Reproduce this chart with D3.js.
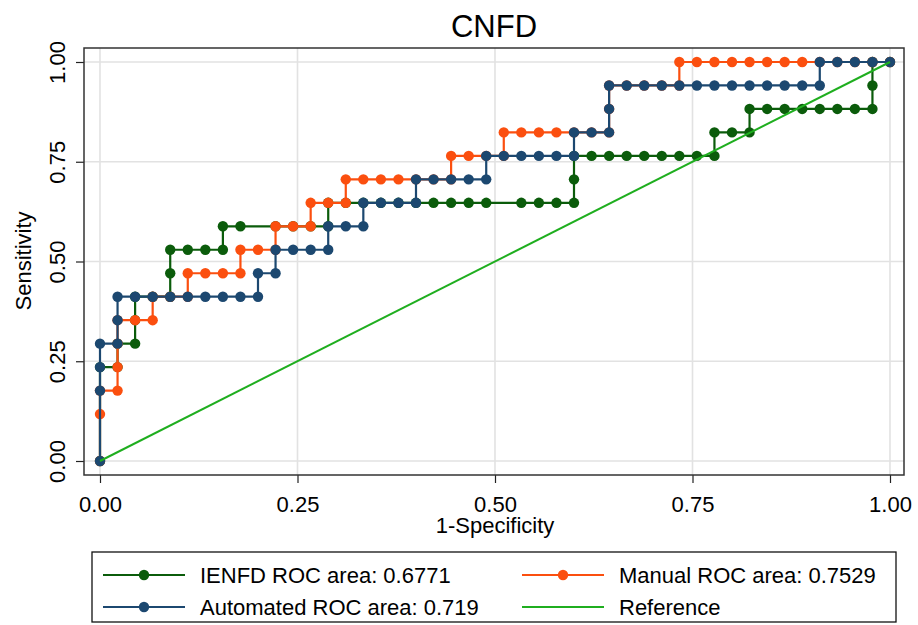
<!DOCTYPE html>
<html>
<head>
<meta charset="utf-8">
<script src="https://cdn.jsdelivr.net/npm/d3@7"></script>
<style>
  body { margin: 0; background: #fff; }
  svg { font-family: "Liberation Sans", Arial, sans-serif; }
</style>
</head>
<body>
<div id="graph"></div>
<script>
// counts: 45 negatives, 17 positives
const nNeg = 45, nPos = 17;

const ienfdFP = [0,0,1,1,2,2,2,3,4,4,4,5,6,7,7,8,10,11,12,13,13,14,15,16,17,18,19,20,21,22,24,25,26,27,27,27,28,29,30,31,32,33,34,35,35,36,37,37,38,39,40,41,42,43,44,44,44,45];
const ienfdTP = [0,4,4,5,5,6,7,7,7,8,9,9,9,9,10,10,10,10,10,10,11,11,11,11,11,11,11,11,11,11,11,11,11,11,12,13,13,13,13,13,13,13,13,13,14,14,14,15,15,15,15,15,15,15,15,16,17,17];

const manualFP = [0,0,0,1,1,1,1,2,3,3,4,5,5,6,7,8,8,9,10,10,11,12,12,13,14,14,15,16,17,18,19,20,20,21,22,23,23,24,25,26,27,28,29,29,29,30,31,32,33,33,34,35,36,37,38,39,40,41,42,43,44,45];
const manualTP = [0,2,3,3,4,5,6,6,6,7,7,7,8,8,8,8,9,9,9,10,10,10,11,11,11,12,12,12,12,12,12,12,13,13,13,13,14,14,14,14,14,14,14,15,16,16,16,16,16,17,17,17,17,17,17,17,17,17,17,17,17,17];

const autoFP = [0,0,0,0,1,1,1,2,3,4,5,6,7,8,9,9,10,10,11,12,13,13,14,15,15,16,17,18,18,19,20,21,22,22,23,24,25,26,27,27,28,29,29,29,30,31,32,33,34,35,36,37,38,39,40,41,41,42,43,44,45];
const autoTP = [0,3,4,5,5,6,7,7,7,7,7,7,7,7,7,8,8,9,9,9,9,10,10,10,11,11,11,11,12,12,12,12,12,13,13,13,13,13,13,14,14,14,15,16,16,16,16,16,16,16,16,16,16,16,16,16,17,17,17,17,17];

const ticks = [0, 0.25, 0.5, 0.75, 1];
const legendLabels = ["IENFD ROC area: 0.6771", "Manual ROC area: 0.7529", "Automated ROC area: 0.719", "Reference"];

const toPoints = (fp, tp) => fp.map((f, i) => [f / nNeg, tp[i] / nPos]);

const series = [
  {name: legendLabels[0], color: "#0b5c0b", pts: toPoints(ienfdFP, ienfdTP)},
  {name: legendLabels[1], color: "#fb4f0f", pts: toPoints(manualFP, manualTP)},
  {name: legendLabels[2], color: "#1c4870", pts: toPoints(autoFP, autoTP)}
];
const refColor = "#1fae1f";

const width = 918, height = 625;
const frame = {left: 84, top: 48, right: 904, bottom: 475};

const svg = d3.select("#graph").append("svg")
  .attr("width", width)
  .attr("height", height);

const x = d3.scaleLinear().domain([0, 1]).range([100, 890]);
const y = d3.scaleLinear().domain([0, 1]).range([461, 62]);

// grid
svg.append("g").selectAll("line.gx").data(ticks).join("line")
  .attr("x1", d => x(d)).attr("x2", d => x(d))
  .attr("y1", frame.top).attr("y2", frame.bottom)
  .attr("stroke", "#e2e2e2").attr("stroke-width", 1.6);
svg.append("g").selectAll("line.gy").data(ticks).join("line")
  .attr("y1", d => y(d)).attr("y2", d => y(d))
  .attr("x1", frame.left).attr("x2", frame.right)
  .attr("stroke", "#e2e2e2").attr("stroke-width", 1.6);

// axes
const fmt = d3.format(".2f");
const xAxis = svg.append("g")
  .attr("transform", `translate(0,${frame.bottom})`)
  .call(d3.axisBottom(x).tickValues(ticks).tickFormat(fmt).tickSize(8).tickSizeOuter(0));
xAxis.select(".domain").remove();
xAxis.selectAll("text").attr("y", 37).attr("dy", 0)
  .attr("font-size", 22).attr("fill", "#000");

const yAxis = svg.append("g")
  .attr("transform", `translate(${frame.left},0)`)
  .call(d3.axisLeft(y).tickValues(ticks).tickFormat(fmt).tickSize(8).tickSizeOuter(0));
yAxis.select(".domain").remove();
yAxis.selectAll("text")
  .attr("x", 0).attr("y", -19).attr("dy", 0)
  .attr("transform", "rotate(-90)")
  .attr("text-anchor", "middle")
  .attr("font-size", 22).attr("fill", "#000");
svg.selectAll(".tick line").attr("stroke", "#222").attr("stroke-width", 1.2);

// frame
svg.append("rect")
  .attr("x", frame.left).attr("y", frame.top)
  .attr("width", frame.right - frame.left).attr("height", frame.bottom - frame.top)
  .attr("fill", "none").attr("stroke", "#333").attr("stroke-width", 1.5);

// ROC curves
const line = d3.line().x(d => x(d[0])).y(d => y(d[1]));
series.forEach(s => {
  svg.append("path").datum(s.pts)
    .attr("d", line)
    .attr("fill", "none").attr("stroke", s.color).attr("stroke-width", 2.2);
  svg.append("g").selectAll("circle").data(s.pts).join("circle")
    .attr("cx", d => x(d[0])).attr("cy", d => y(d[1]))
    .attr("r", 5.2).attr("fill", s.color);
});

// reference line
svg.append("path").datum([[0, 0], [1, 1]])
  .attr("d", line)
  .attr("fill", "none").attr("stroke", refColor).attr("stroke-width", 2);

// titles
svg.append("text").attr("x", 494).attr("y", 37)
  .attr("text-anchor", "middle").attr("font-size", 31).text("CNFD");
svg.append("text").attr("x", 495).attr("y", 533)
  .attr("text-anchor", "middle").attr("font-size", 22).text("1-Specificity");
svg.append("text").attr("transform", "translate(31,261) rotate(-90)")
  .attr("text-anchor", "middle").attr("font-size", 22).text("Sensitivity");

// legend
svg.append("rect").attr("x", 92).attr("y", 552).attr("width", 804).attr("height", 70)
  .attr("fill", "none").attr("stroke", "#111").attr("stroke-width", 1.3);

const legendItems = [
  {label: legendLabels[0], color: series[0].color, marker: true, lx: 103, ly: 575},
  {label: legendLabels[1], color: series[1].color, marker: true, lx: 522, ly: 575},
  {label: legendLabels[2], color: series[2].color, marker: true, lx: 103, ly: 607},
  {label: legendLabels[3], color: refColor, marker: false, lx: 522, ly: 607}
];
const lg = svg.append("g").selectAll("g").data(legendItems).join("g")
  .attr("transform", d => `translate(${d.lx},${d.ly})`);
lg.append("line").attr("x1", 0).attr("x2", 82).attr("y1", 0).attr("y2", 0)
  .attr("stroke", d => d.color).attr("stroke-width", 2);
lg.filter(d => d.marker).append("circle").attr("cx", 41).attr("cy", 0).attr("r", 5.2)
  .attr("fill", d => d.color);
lg.append("text").attr("x", 97).attr("y", 8).attr("font-size", 22).text(d => d.label);
</script>
</body>
</html>
